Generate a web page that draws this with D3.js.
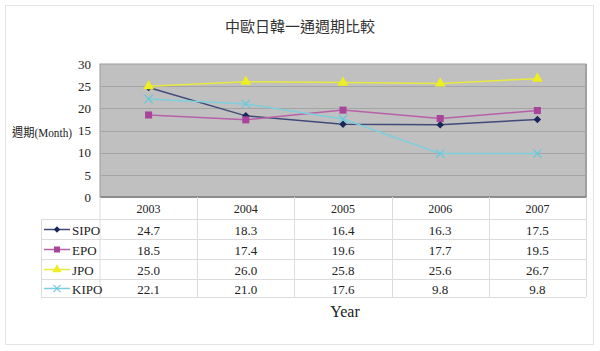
<!DOCTYPE html>
<html>
<head>
<meta charset="utf-8">
<script src="https://cdn.jsdelivr.net/npm/d3@7"></script>
<style>
  html, body { margin: 0; padding: 0; background: #fff; }
  svg { display: block; }
</style>
</head>
<body>
<svg id="chart" width="600" height="351"></svg>
<script>
// Data
const years = ['2003', '2004', '2005', '2006', '2007'];
const sipo = [24.7, 18.3, 16.4, 16.3, 17.5];
const epo = [18.5, 17.4, 19.6, 17.7, 19.5];
const jpo = [25.0, 26.0, 25.8, 25.6, 26.7];
const kipo = [22.1, 21.0, 17.6, 9.8, 9.8];
const yTicks = [0, 5, 10, 15, 20, 25, 30];

const series = [
  { name: 'SIPO', values: sipo, line: '#404a78', fill: '#1a2658', symbol: 'diamond' },
  { name: 'EPO', values: epo, line: '#b760a8', fill: '#a8449a', symbol: 'square' },
  { name: 'JPO', values: jpo, line: '#e8e840', fill: '#eeee20', symbol: 'triangle' },
  { name: 'KIPO', values: kipo, line: '#7ccfdc', fill: '#6cc8d8', symbol: 'cross' }
];

const svg = d3.select('#chart');
const serif = '"Liberation Serif", "Noto Sans CJK TC", serif';
const cjk = '"Liberation Serif", "Noto Sans CJK TC", sans-serif';

// outer frame
svg.append('rect')
  .attr('x', 5.5).attr('y', 5.5)
  .attr('width', 588).attr('height', 339)
  .attr('fill', '#fff')
  .attr('stroke', '#e4e4e4');

const plotLeft = 100, plotRight = 586, plotTop = 64, plotBottom = 197;

const x = d3.scaleBand().domain(years).range([plotLeft, plotRight]);
const y = d3.scaleLinear().domain([0, 30]).range([plotBottom, plotTop]);

// plot background
svg.append('rect')
  .attr('x', plotLeft).attr('y', plotTop)
  .attr('width', plotRight - plotLeft).attr('height', plotBottom - plotTop)
  .attr('fill', '#c0c0c0')
  .attr('stroke', '#9c9c9c');

// gridlines
svg.append('g').selectAll('line')
  .data(yTicks.slice(1, -1))
  .enter().append('line')
  .attr('x1', plotLeft).attr('x2', plotRight)
  .attr('y1', d => Math.round(y(d)) + 0.5).attr('y2', d => Math.round(y(d)) + 0.5)
  .attr('stroke', '#a4a4a4')
  .attr('stroke-width', 1);

// plot shading edge (right + bottom)
svg.append('line')
  .attr('x1', plotRight).attr('x2', plotRight)
  .attr('y1', plotTop).attr('y2', plotBottom + 1)
  .attr('stroke', '#a0a0a0').attr('stroke-width', 2);
svg.append('line')
  .attr('x1', plotLeft).attr('x2', plotRight + 1)
  .attr('y1', plotBottom).attr('y2', plotBottom)
  .attr('stroke', '#8c8c8c').attr('stroke-width', 2);

// y axis tick labels
const yAxis = d3.axisLeft(y).tickValues(yTicks).tickSize(0).tickPadding(9);
const yG = svg.append('g').attr('transform', `translate(${plotLeft},0)`).call(yAxis);
yG.select('.domain').remove();
yG.selectAll('text')
  .attr('font-family', serif)
  .attr('font-size', 13)
  .attr('fill', '#222');

// title
svg.append('text')
  .attr('x', 300).attr('y', 32)
  .attr('text-anchor', 'middle')
  .attr('font-family', cjk)
  .attr('font-size', 15)
  .attr('fill', '#333')
  .text('中歐日韓一通週期比較');

// y axis title
svg.append('text')
  .attr('x', 12).attr('y', 137)
  .attr('font-family', cjk)
  .attr('font-size', 12)
  .attr('textLength', 60)
  .attr('lengthAdjust', 'spacingAndGlyphs')
  .attr('fill', '#222')
  .text('週期(Month)');

function symbolPath(type) {
  if (type === 'diamond') return d3.symbol(d3.symbolDiamond2, 36)();
  if (type === 'square') return d3.symbol(d3.symbolSquare, 50)();
  if (type === 'triangle') return d3.symbol(d3.symbolTriangle, 50)();
  return d3.symbol(d3.symbolX, 48)();
}

const line = d3.line()
  .x((d, i) => x(years[i]) + x.bandwidth() / 2)
  .y(d => y(d));

series.forEach(s => {
  svg.append('path')
    .datum(s.values)
    .attr('d', line)
    .attr('fill', 'none')
    .attr('stroke', s.line)
    .attr('stroke-width', 1.5);

  svg.append('g').selectAll('path')
    .data(s.values)
    .enter().append('path')
    .attr('transform', (d, i) => `translate(${x(years[i]) + x.bandwidth() / 2},${y(d)})`)
    .attr('d', symbolPath(s.symbol))
    .attr('fill', s.symbol === 'cross' ? 'none' : s.fill)
    .attr('stroke', s.symbol === 'cross' ? s.fill : 'none')
    .attr('stroke-width', 1.3);
});

// data table
const tableLeft = 41;
const rowEdges = [197, 219, 239, 259, 279, 297];
const grid = svg.append('g').attr('stroke', '#dcdcdc').attr('stroke-width', 1);

// header row borders
grid.append('line').attr('x1', plotLeft).attr('x2', plotLeft).attr('y1', plotBottom).attr('y2', rowEdges[5]);
years.forEach(yr => {
  const xe = Math.round(x(yr) + x.bandwidth()) + 0.5;
  grid.append('line').attr('x1', xe).attr('x2', xe).attr('y1', plotBottom).attr('y2', rowEdges[5]);
});
rowEdges.slice(1).forEach(ry => {
  grid.append('line').attr('x1', tableLeft).attr('x2', plotRight).attr('y1', ry + 0.5).attr('y2', ry + 0.5);
});
grid.append('line').attr('x1', tableLeft + 0.5).attr('x2', tableLeft + 0.5).attr('y1', rowEdges[1]).attr('y2', rowEdges[5]);

// year header labels
svg.append('g').selectAll('text')
  .data(years)
  .enter().append('text')
  .attr('x', d => x(d) + x.bandwidth() / 2)
  .attr('y', 213)
  .attr('text-anchor', 'middle')
  .attr('font-family', serif)
  .attr('font-size', 12)
  .attr('fill', '#222')
  .text(d => d);

series.forEach((s, si) => {
  const cy = (rowEdges[si + 1] + rowEdges[si + 2]) / 2 + 0.5;
  // legend key
  svg.append('line')
    .attr('x1', 44).attr('x2', 70)
    .attr('y1', cy).attr('y2', cy)
    .attr('stroke', s.line).attr('stroke-width', 1.5);
  svg.append('path')
    .attr('transform', `translate(57,${cy}) scale(0.85)`)
    .attr('d', symbolPath(s.symbol))
    .attr('fill', s.symbol === 'cross' ? 'none' : s.fill)
    .attr('stroke', s.symbol === 'cross' ? s.fill : 'none')
    .attr('stroke-width', 1.3);
  svg.append('text')
    .attr('x', 72).attr('y', cy + 5)
    .attr('font-family', serif)
    .attr('font-size', 13)
    .attr('fill', '#222')
    .text(s.name);
  // values
  svg.append('g').selectAll('text')
    .data(s.values)
    .enter().append('text')
    .attr('x', (d, i) => x(years[i]) + x.bandwidth() / 2)
    .attr('y', cy + 5)
    .attr('text-anchor', 'middle')
    .attr('font-family', serif)
    .attr('font-size', 13)
    .attr('fill', '#222')
    .text(d => d.toFixed(1));
});

// x axis title
svg.append('text')
  .attr('x', 345).attr('y', 317)
  .attr('text-anchor', 'middle')
  .attr('font-family', serif)
  .attr('font-size', 16)
  .attr('fill', '#222')
  .text('Year');
</script>
</body>
</html>
